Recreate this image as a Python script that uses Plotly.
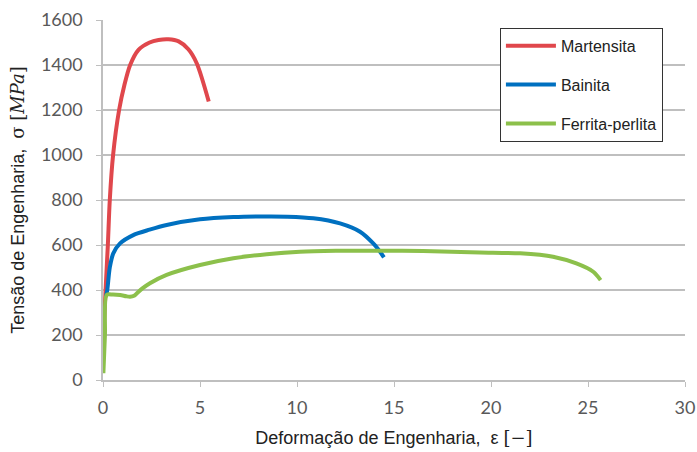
import plotly.graph_objects as go

# Martensita
mart_x = [0.05, 0.15, 0.25, 0.35, 0.52, 0.83, 1.1, 1.4, 1.83, 2.4, 2.86, 3.37, 3.9, 4.4, 4.83, 5.45]
mart_y = [250, 430, 600, 800, 1000, 1200, 1310, 1400, 1467, 1500, 1511, 1514, 1505, 1470, 1408, 1238]

# Bainita
bain_x = [0.15, 0.22, 0.35, 0.53, 0.88, 1.56, 2.4, 3.28, 5.0, 6.72, 8.44, 9.5, 10.84, 12.22, 13.25, 13.93, 14.28, 14.48]
bain_y = [370, 400, 500, 563, 607, 644, 668, 689, 714, 724, 727, 726, 719, 696, 659, 607, 570, 545]

# Ferrita-perlita
ferr_x = [0.02, 0.1, 0.19, 0.5, 0.88, 1.2, 1.39, 1.6, 1.74, 2.05, 2.42, 3.28, 5.0, 6.72, 8.44, 10.15, 12, 14.28, 16.5, 19.43, 21.5, 23.2, 24.4, 25.27, 25.65]
ferr_y = [30, 200, 378, 380, 378, 372, 370, 374, 385, 408, 430, 467, 511, 541, 559, 570, 574, 575, 573, 567, 563, 548, 518, 481, 444]

x_ticks = [0, 5, 10, 15, 20, 25, 30]
y_ticks = [0, 200, 400, 600, 800, 1000, 1200, 1400, 1600]

series = [
    ("Martensita", mart_x, mart_y, "#E0474C"),
    ("Bainita", bain_x, bain_y, "#0070C0"),
    ("Ferrita-perlita", ferr_x, ferr_y, "#8CC04B"),
]

fig = go.Figure()
for i, (name, xs, ys, col) in enumerate(series):
    fig.add_trace(go.Scatter(
        x=xs, y=ys, mode="lines", name=name,
        line=dict(color=col, width=4, shape="spline", smoothing=0.8),
        legendgroup=str(i),
    ))

serif = "font-family:'DejaVu Serif', 'Liberation Serif', serif"

fig.update_layout(
    width=697, height=452,
    margin=dict(l=103, r=12, t=20, b=72),
    paper_bgcolor="white", plot_bgcolor="white",
    font=dict(family="Liberation Sans, Arial, sans-serif", color="#222222"),
    showlegend=True,
    legend=dict(
        x=0.682, y=0.978, xanchor="left", yanchor="top",
        bordercolor="#333333", borderwidth=1, bgcolor="white",
        font=dict(size=16, color="#222222"),
        tracegroupgap=15, traceorder="grouped", itemwidth=50,
    ),
    xaxis=dict(
        range=[0, 30], tickvals=x_ticks, ticktext=[str(v) for v in x_ticks],
        showgrid=False, zeroline=False, automargin=False,
        showline=True, linecolor="#BFBFBF", linewidth=1.5,
        ticks="outside", ticklen=5, tickcolor="#BFBFBF",
        ticklabelstandoff=6,
        tickfont=dict(family="Lato, sans-serif", size=18, color="#595959"),
        title=dict(text=f"Deformação de Engenharia,  ε <span style=\"{serif}\">[−]</span>",
                   font=dict(size=18, color="#222222"), standoff=14),
    ),
    yaxis=dict(
        range=[0, 1600], tickvals=y_ticks, ticktext=[str(v) for v in y_ticks],
        showgrid=True, gridcolor="#BFBFBF", gridwidth=1.5, zeroline=False, automargin=False,
        showline=True, linecolor="#BFBFBF", linewidth=1.5,
        ticks="outside", ticklen=5, tickcolor="#BFBFBF",
        ticklabelstandoff=10,
        tickfont=dict(family="Lato, sans-serif", size=18, color="#595959"),
        title=dict(text=f"Tensão de Engenharia,  <span style=\"{serif}\">σ [<i>MPa</i>]</span>",
                   font=dict(size=18, color="#222222"), standoff=12),
    ),
)

fig.write_html("out.html")
